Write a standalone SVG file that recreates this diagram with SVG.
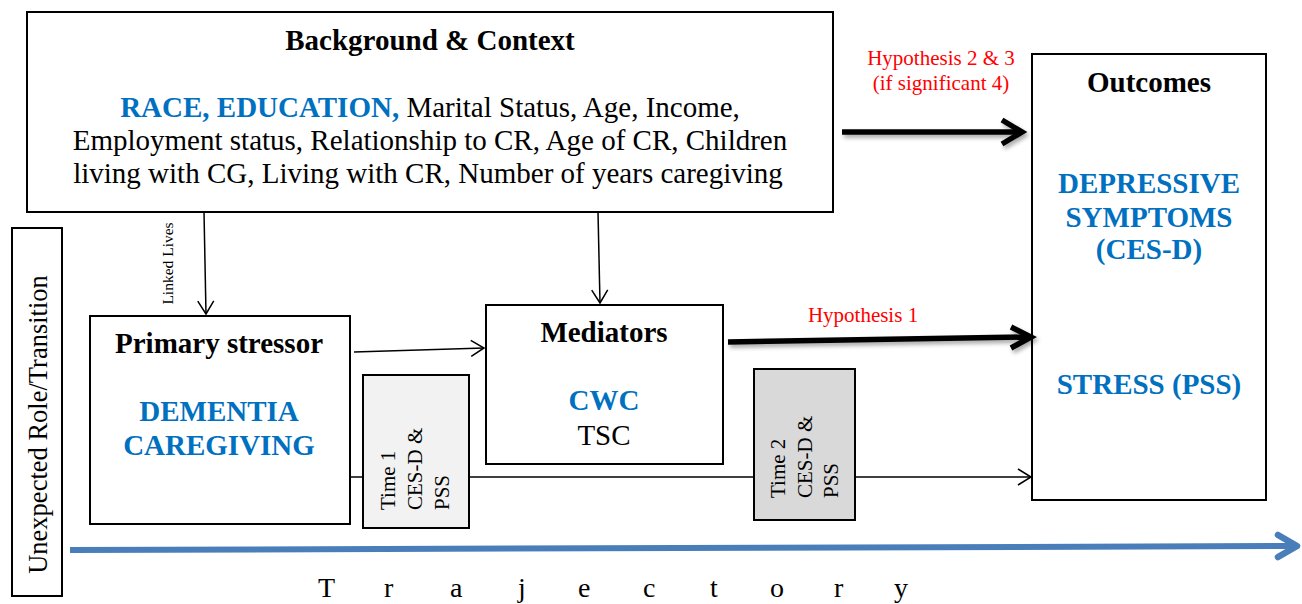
<svg xmlns="http://www.w3.org/2000/svg" width="1302" height="604" viewBox="0 0 1302 604">
<style>
text{font-family:"Liberation Serif","Times New Roman",serif;fill:#000}
.box{fill:#fff;stroke:#000;stroke-width:2}
.b{font-weight:bold}
.blue{fill:#0070c0;font-weight:bold}
.t29{font-size:29px}
.red{fill:#ff0000;font-size:21px}
.thin{stroke:#000;stroke-width:1.5;fill:none}
.thick{stroke:#000;stroke-width:5.5;fill:none;stroke-linecap:butt}
.mid{text-anchor:middle}
</style>
<defs>
<marker id="open" markerUnits="userSpaceOnUse" markerWidth="16" markerHeight="20" refX="14" refY="9" orient="auto" overflow="visible">
<path d="M1,1 L14,9 L1,17" fill="none" stroke="#000" stroke-width="1.5"/>
</marker>
<filter id="sh" x="-10%" y="-50%" width="120%" height="200%">
<feDropShadow dx="2" dy="3" stdDeviation="2" flood-color="#000" flood-opacity="0.35"/>
</filter>
</defs>

<g id="background">
<rect class="box" x="27" y="12" width="806" height="200"/>
<text class="b t29 mid" x="430" y="50">Background &amp; Context</text>
<text class="t29 mid" x="430" y="117"><tspan class="blue">RACE, EDUCATION,</tspan> Marital Status, Age, Income,</text>
<text class="t29 mid" x="430" y="150">Employment status, Relationship to CR, Age of CR, Children</text>
<text class="t29 mid" x="428" y="183">living with CG, Living with CR, Number of years caregiving</text>
</g>

<g id="role-transition">
<rect class="box" x="12" y="228" width="50" height="368"/>
<text class="mid" style="font-size:26.5px" transform="translate(47,424.5) rotate(-90)" x="0" y="0">Unexpected Role/Transition</text>
</g>

<g id="primary-stressor">
<rect class="box" x="90" y="316" width="260" height="208"/>
<text class="b t29 mid" x="219" y="353">Primary stressor</text>
<text class="blue t29 mid" x="219" y="421">DEMENTIA</text>
<text class="blue t29 mid" x="219" y="455">CAREGIVING</text>
</g>

<g id="mediators">
<rect class="box" x="486" y="305" width="237" height="159"/>
<text class="b t29 mid" x="604" y="342">Mediators</text>
<text class="blue t29 mid" x="604" y="410">CWC</text>
<text class="t29 mid" x="604" y="445">TSC</text>
</g>

<g id="outcomes">
<rect class="box" x="1032" y="54" width="234" height="446"/>
<text class="b t29 mid" x="1149" y="92">Outcomes</text>
<text class="blue t29 mid" x="1149" y="193">DEPRESSIVE</text>
<text class="blue t29 mid" x="1149" y="227">SYMPTOMS</text>
<text class="blue t29 mid" x="1149" y="259">(CES-D)</text>
<text class="blue t29 mid" x="1149" y="394">STRESS (PSS)</text>
</g>

<g id="connectors">
<line class="thin" x1="204" y1="212" x2="206" y2="314" marker-end="url(#open)"/>
<line class="thin" x1="598" y1="212" x2="600" y2="303" marker-end="url(#open)"/>
<line class="thin" x1="354" y1="352" x2="484" y2="348" marker-end="url(#open)"/>
<line class="thin" x1="350" y1="477" x2="363" y2="477"/>
<line class="thin" x1="469" y1="477" x2="754" y2="477"/>
<line class="thin" x1="855" y1="477" x2="1031" y2="477" marker-end="url(#open)"/>
<g filter="url(#sh)">
<line class="thick" x1="842" y1="132" x2="1020" y2="132"/>
<polyline class="thick" points="1002,120 1022,132 1002,144" stroke-linejoin="miter"/>
<line class="thick" x1="728" y1="342" x2="1030" y2="337"/>
<polyline class="thick" points="1011,327 1031,337 1011,348" stroke-linejoin="miter"/>
</g>
<line x1="70" y1="550" x2="1294" y2="546" stroke="#4a7ebb" stroke-width="6"/>
<polyline points="1278,535 1297,546 1278,557" fill="none" stroke="#4a7ebb" stroke-width="6.5" stroke-linecap="round" stroke-linejoin="round"/>
</g>

<g id="time1">
<rect x="363" y="375" width="106" height="153" fill="#f2f2f2" stroke="#000" stroke-width="2"/>
<text style="font-size:21px" transform="translate(395,510) rotate(-90)"><tspan x="0" y="0">Time 1</tspan><tspan x="0" y="27">CES-D &amp;</tspan><tspan x="0" y="54">PSS</tspan></text>
</g>

<g id="time2">
<rect x="754" y="369" width="101" height="151" fill="#d9d9d9" stroke="#000" stroke-width="2"/>
<text style="font-size:21px" transform="translate(785,498) rotate(-90)"><tspan x="0" y="0">Time 2</tspan><tspan x="0" y="27">CES-D &amp;</tspan><tspan x="0" y="53">PSS</tspan></text>
</g>

<g id="labels">
<text style="font-size:15.5px" transform="translate(173,263.5) rotate(-90)" class="mid">Linked Lives</text>
<text class="red mid" x="941" y="65">Hypothesis 2 &amp; 3</text>
<text class="red mid" x="941" y="90">(if significant 4)</text>
<text class="red mid" x="863" y="322">Hypothesis 1</text>
<text style="font-size:28px" y="597"><tspan x="318">T</tspan><tspan x="384">r</tspan><tspan x="450">a</tspan><tspan x="518">j</tspan><tspan x="578">e</tspan><tspan x="643">c</tspan><tspan x="710">t</tspan><tspan x="770">o</tspan><tspan x="834">r</tspan><tspan x="894">y</tspan></text>
</g>
</svg>
